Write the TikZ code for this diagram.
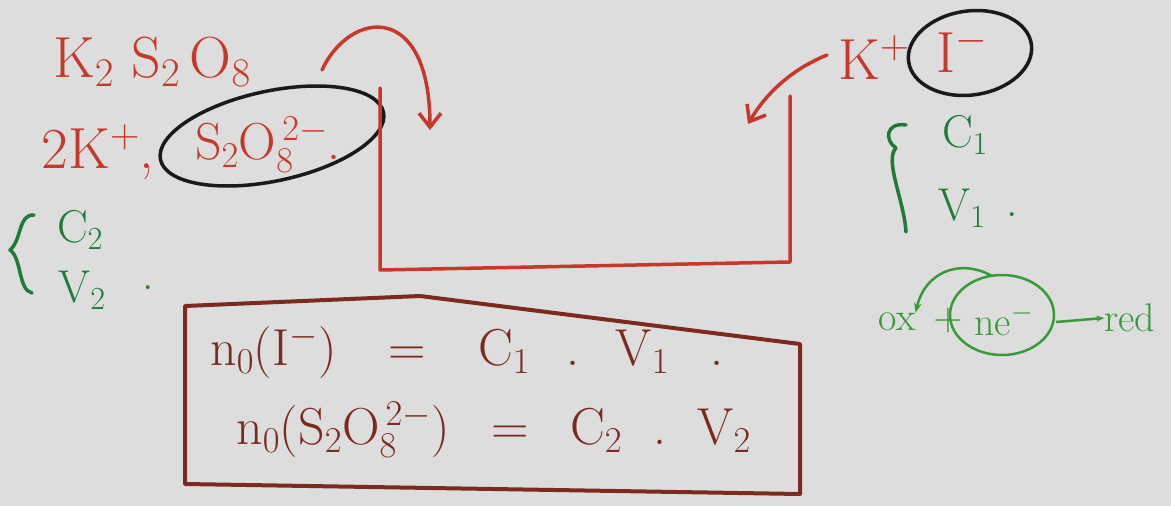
\RequirePackage{fix-cm}
\documentclass[tikz,border=0pt]{standalone}
\usetikzlibrary{arrows.meta}
\definecolor{board}{HTML}{DCDDDC}
\definecolor{inkred}{HTML}{C8372B}
\definecolor{inkgreen}{HTML}{1F7A3B}
\definecolor{inkbright}{HTML}{3A9A3A}
\definecolor{inkbrown}{HTML}{7A2A20}
\definecolor{inkblack}{HTML}{1A1A1A}
\tikzset{
  redtxt/.style={text=inkred, font=\fontsize{58}{64}\selectfont, inner sep=0pt},
  greentxt/.style={text=inkgreen, font=\fontsize{46}{52}\selectfont, inner sep=0pt},
  lime/.style={text=inkbright, font=\fontsize{40}{46}\selectfont, inner sep=0pt},
  browntxt/.style={text=inkbrown, font=\fontsize{52}{58}\selectfont, inner sep=0pt},
  redline/.style={draw=inkred, line width=3.5pt, line cap=round, line join=round},
  redarrow/.style={redline, -{Straight Barb[length=14pt, width=22pt, line width=3.5pt]}},
  ring/.style={draw=inkblack, line width=3.5pt},
  bracket/.style={draw=inkgreen, line width=3.5pt, line cap=round, line join=round},
  boxline/.style={draw=inkbrown, line width=4pt, line cap=round, line join=round},
}
\newcommand{\gap}{\hspace{0.3em}}
\begin{document}
\begin{tikzpicture}[x=1pt, y=-1pt]
\fill[board] (0,0) rectangle (1171,506);
\useasboundingbox (0,0) rectangle (1171,506);

% left formulas
\node[redtxt] (salt) at (152,62) {K$_2$\gap S$_2$\,O$_8$};
\node[redtxt] (twok) at (98,152) {2K$^+$,};
\node[redtxt, font=\fontsize{52}{58}\selectfont] (persulf) at (268,145) {S$_2$O$_8^{\,2-}$.};
\draw[ring, rotate around={12:(272,136)}] (272,136) ellipse (114 and 45);

% left green brace
\draw[bracket] (34,215) .. controls (18,214) and (22,240) .. (10,250) .. controls (22,258) and (18,290) .. (32,293);
\node[greentxt] (c2) at (80,230) {C$_2$};
\node[greentxt] (v2) at (82,290) {V$_2$};
\node[greentxt] (dotl) at (148,288) {.};

% red U-shaped circuit
\coordinate (ula) at (380,88);
\coordinate (ulb) at (380,270);
\coordinate (urb) at (790,262);
\coordinate (ura) at (790,96);
\draw[redline] (ula) -- (ulb) -- (urb) -- (ura);

% left curved arrow
\coordinate (la0) at (322,70);
\coordinate (la1) at (430,130);
\draw[redarrow] (la0) .. controls (350,10) and (430,0) .. (la1);

% right formulas
\node[redtxt] (kplus) at (874,58) {K$^+$};
\node[redtxt] (iodide) at (962,50) {I$^-$};
\draw[ring, rotate around={8:(970,53)}] (970,53) ellipse (62 and 42);

% right curved arrow
\coordinate (ra0) at (827,55);
\coordinate (ra1) at (748,124);
\draw[redarrow] (ra0) .. controls (790,70) and (765,95) .. (ra1);

% right green brace
\draw[bracket] (906,125) .. controls (886,122) and (884,140) .. (896,148) .. controls (884,160) and (904,200) .. (906,232);
\node[greentxt] (c1) at (965,135) {C$_1$};
\node[greentxt] (v1) at (962,208) {V$_1$};
\node[greentxt] (dotr) at (1012,215) {.};

% ox + ne- -> red
\node[lime] (ox) at (897,322) {ox};
\node[lime] (plus) at (948,320) {$+$};
\node[lime] (ne) at (1004,320) {ne$^-$};
\node[lime] (red) at (1130,318) {red};
\draw[draw=inkbright, line width=2.5pt] (1002,315) ellipse (52 and 40);
\draw[draw=inkbright, line width=2.5pt, -{Stealth[length=8pt]}] (1056,322) -- (red.west);
\draw[draw=inkbright, line width=2.5pt, -{Stealth[length=10pt]}] (992,276) .. controls (960,258) and (925,272) .. (ox.north east);

% result box
\coordinate (b1) at (185,306);
\coordinate (b2) at (420,296);
\coordinate (b3) at (800,344);
\coordinate (b4) at (800,494);
\coordinate (b5) at (185,484);
\draw[boxline] (b1) -- (b2) -- (b3) -- (b4) -- (b5) -- cycle;
\node[browntxt, anchor=west] (eq1) at (210,352) {n$_0$(I$^-$)\hspace{1em}=\hspace{1em}C$_1$\hspace{0.7em}.\hspace{0.7em}V$_1$\hspace{0.8em}.};
\node[browntxt, anchor=west] (eq2) at (236,430) {n$_0$(S$_2$O$_8^{\,2-}$)\hspace{0.8em}=\hspace{0.8em}C$_2$\hspace{0.6em}.\hspace{0.6em}V$_2$};
\end{tikzpicture}
\end{document}
